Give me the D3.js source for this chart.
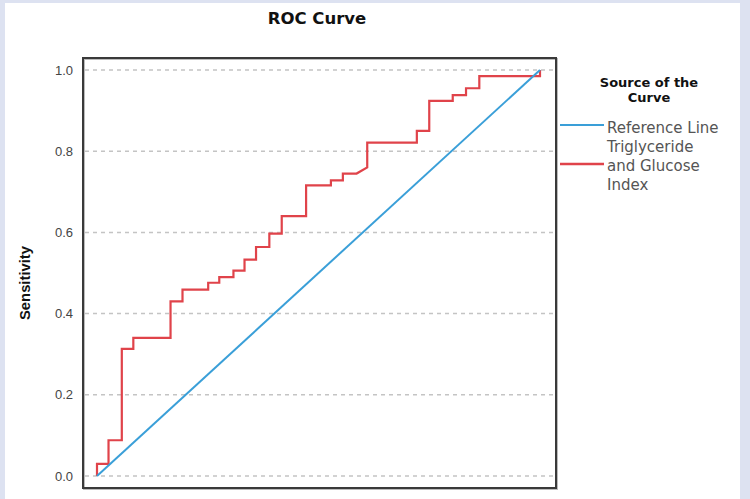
<!DOCTYPE html>
<html>
<head>
<meta charset="utf-8">
<script src="https://cdn.jsdelivr.net/npm/d3@7"></script>
<style>
  html, body { margin: 0; padding: 0; background: #dde2f1; }
  svg { display: block; }
</style>
</head>
<body>
<svg id="chart" width="750" height="499"></svg>
<script>
// ---- data ----
const title = "ROC Curve";
const yAxisLabel = "Sensitivity";
const legendTitle = ["Source of the", "Curve"];
const seriesNames = ["Reference Line", "Triglyceride and Glucose Index"];
const yTicks = [0.0, 0.2, 0.4, 0.6, 0.8, 1.0];
const xTicks = [0.0, 0.2, 0.4, 0.6, 0.8, 1.0];

// reference line (1 - specificity, sensitivity)
const refFpr = [0, 1];
const refSens = [0, 1];

// TyG index ROC vertices
const tygFpr = [0, 0, 0.026, 0.026, 0.056, 0.056, 0.082, 0.082, 0.166, 0.166,
  0.193, 0.193, 0.251, 0.251, 0.276, 0.276, 0.308, 0.308, 0.333, 0.333,
  0.359, 0.359, 0.389, 0.389, 0.417, 0.417, 0.472, 0.472, 0.528, 0.528,
  0.555, 0.555, 0.586, 0.610, 0.610, 0.722, 0.722, 0.750, 0.750, 0.803,
  0.803, 0.833, 0.833, 0.863, 0.863, 1.0, 1.0];
const tygSens = [0, 0.030, 0.030, 0.088, 0.088, 0.313, 0.313, 0.340, 0.340, 0.430,
  0.430, 0.459, 0.459, 0.476, 0.476, 0.490, 0.490, 0.506, 0.506, 0.533,
  0.533, 0.564, 0.564, 0.597, 0.597, 0.640, 0.640, 0.716, 0.716, 0.728,
  0.728, 0.745, 0.745, 0.760, 0.821, 0.821, 0.850, 0.850, 0.924, 0.924,
  0.938, 0.938, 0.955, 0.955, 0.985, 0.985, 1.0];

const colors = ["#3a9fd8", "#e0434a"];

// ---- drawing ----
const svg = d3.select("#chart");

// white panel
svg.append("rect").attr("x", 5).attr("y", 3).attr("width", 735).attr("height", 500).attr("fill", "#ffffff");

const frame = { left: 83, right: 556, top: 58, bottom: 488 };
const x = d3.scaleLinear().domain([0, 1]).range([97, 540]);
const y = d3.scaleLinear().domain([0, 1]).range([476, 70]);

// title
svg.append("text").attr("x", 317).attr("y", 24).attr("text-anchor", "middle")
  .attr("font-family", "DejaVu Sans").attr("font-weight", "bold").attr("font-size", 16.5)
  .attr("fill", "#111").text(title);

// gridlines
svg.append("g").selectAll("line").data(yTicks).join("line")
  .attr("x1", frame.left + 2).attr("x2", frame.right - 2)
  .attr("y1", d => y(d)).attr("y2", d => y(d))
  .attr("stroke", "#c4c4c4").attr("stroke-width", 1.5).attr("stroke-dasharray", "4,4");

// y axis tick labels
const yAxis = d3.axisLeft(y).tickValues(yTicks).tickFormat(d3.format(".1f")).tickSize(0).tickPadding(10);
const gy = svg.append("g").attr("transform", `translate(${frame.left},0)`).call(yAxis);
gy.select(".domain").remove();
gy.selectAll("text").attr("font-family", "Liberation Sans").attr("font-size", 13).attr("fill", "#444");

// x axis tick labels (mostly cut off at bottom, as in the source image)
const xAxis = d3.axisBottom(x).tickValues(xTicks).tickFormat(d3.format(".1f")).tickSize(0).tickPadding(11);
const gx = svg.append("g").attr("transform", `translate(0,${frame.bottom})`).call(xAxis);
gx.select(".domain").remove();
gx.selectAll("text").attr("font-family", "Liberation Sans").attr("font-size", 13).attr("fill", "#444");

// y axis title
svg.append("text").attr("transform", "translate(30,283) rotate(-90)").attr("text-anchor", "middle")
  .attr("font-family", "Liberation Sans").attr("font-weight", "bold").attr("font-size", 14)
  .attr("textLength", 74).attr("lengthAdjust", "spacingAndGlyphs")
  .attr("fill", "#111").text(yAxisLabel);

// lines
const line = d3.line().x(d => x(d[0])).y(d => y(d[1]));
const tygPts = tygFpr.map((f, i) => [f, tygSens[i]]);
const refPts = refFpr.map((f, i) => [f, refSens[i]]);
svg.append("path").datum(tygPts).attr("d", line).attr("fill", "none")
  .attr("stroke", colors[1]).attr("stroke-width", 2.2);
svg.append("path").datum(refPts).attr("d", line).attr("fill", "none")
  .attr("stroke", colors[0]).attr("stroke-width", 2);

// frame
svg.append("rect").attr("x", frame.left + 1).attr("y", frame.top + 1)
  .attr("width", frame.right - frame.left).attr("height", frame.bottom - frame.top)
  .attr("fill", "none").attr("stroke", "#bbb").attr("stroke-width", 2);
svg.append("rect").attr("x", frame.left).attr("y", frame.top)
  .attr("width", frame.right - frame.left).attr("height", frame.bottom - frame.top)
  .attr("fill", "none").attr("stroke", "#3a3a3a").attr("stroke-width", 2);

// legend
const lg = svg.append("g");
lg.selectAll("text.lt").data(legendTitle).join("text").attr("class", "lt")
  .attr("x", 649).attr("y", (d, i) => 87 + i * 14.5).attr("text-anchor", "middle")
  .attr("font-family", "DejaVu Sans").attr("font-weight", "bold").attr("font-size", 13)
  .attr("fill", "#111").text(d => d);

lg.append("line").attr("x1", 560).attr("x2", 604).attr("y1", 125).attr("y2", 125)
  .attr("stroke", colors[0]).attr("stroke-width", 2);
lg.append("text").attr("x", 607).attr("y", 133)
  .attr("font-family", "DejaVu Sans").attr("font-size", 15).attr("fill", "#555")
  .text(seriesNames[0]);

lg.append("line").attr("x1", 560).attr("x2", 604).attr("y1", 164).attr("y2", 164)
  .attr("stroke", colors[1]).attr("stroke-width", 2.5);
const tygLines = ["Triglyceride", "and Glucose", "Index"];
lg.selectAll("text.s2").data(tygLines).join("text").attr("class", "s2")
  .attr("x", 607).attr("y", (d, i) => 152 + i * 19)
  .attr("font-family", "DejaVu Sans").attr("font-size", 15).attr("fill", "#555")
  .text(d => d);
</script>
</body>
</html>
